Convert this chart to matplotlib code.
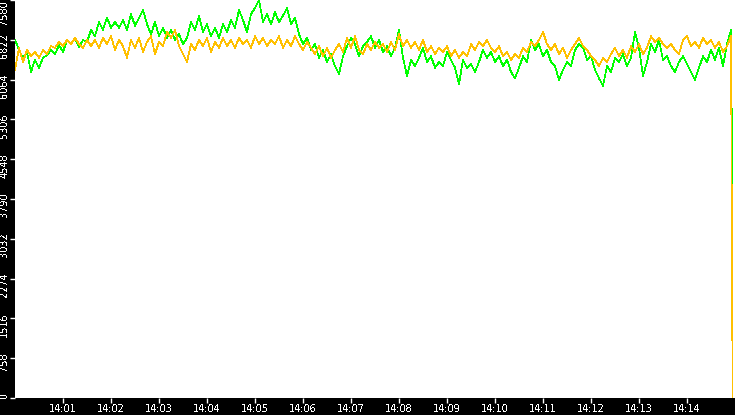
import numpy as np
import matplotlib
matplotlib.use("Agg")
import matplotlib.pyplot as plt
import matplotlib.dates as mdates
from matplotlib.transforms import ScaledTranslation

plt.rcParams["text.antialiased"] = False

# samples every 5 s from 14:00:00, last sample is the drop at the end
green_vals = [
    6820, 6630, 6480, 6590, 6210, 6440, 6290, 6480, 6530, 6630,
    6550, 6720, 6590, 6820, 6740, 6860, 6680, 6820, 6780, 7010,
    6890, 7160, 7010, 7240, 7050, 7160, 7050, 7200, 7010, 7310,
    7090, 7240, 7390, 7120, 6930, 7160, 6890, 7050, 6860, 7010,
    6820, 6930, 6740, 6860, 7160, 7010, 7280, 6970, 7120, 6890,
    7050, 6860, 7120, 6970, 7200, 7050, 7390, 7200, 6970, 7310,
    7430, 7580, 7160, 7310, 7120, 7350, 7160, 7280, 7430, 7120,
    7240, 6930, 6740, 6860, 6630, 6740, 6480, 6630, 6400, 6550,
    6320, 6170, 6510, 6700, 6860, 6740, 6510, 6700, 6780, 6890,
    6670, 6820, 6590, 6700, 6510, 6670, 7010, 6480, 6130, 6440,
    6320, 6480, 6670, 6400, 6510, 6290, 6400, 6320, 6590, 6440,
    6290, 5980, 6440, 6290, 6360, 6210, 6400, 6630, 6480, 6590,
    6400, 6510, 6320, 6440, 6210, 6090, 6290, 6510, 6400, 6820,
    6630, 6740, 6510, 6630, 6400, 6320, 6060, 6250, 6400, 6320,
    6630, 6740, 6670, 6440, 6510, 6250, 6090, 5940, 6320, 6210,
    6480, 6400, 6550, 6320, 6480, 6970, 6670, 6130, 6400, 6740,
    6590, 6820, 6440, 6510, 6320, 6210, 6400, 6510, 6360, 6210,
    6060, 6290, 6510, 6400, 6630, 6440, 6670, 6320, 6740, 7010,
    3350,
]

yellow_vals = [
    6250, 6670, 6400, 6630, 6510, 6590, 6480, 6630, 6550, 6700,
    6670, 6780, 6700, 6820, 6740, 6860, 6740, 6670, 6820, 6700,
    6820, 6670, 6860, 6740, 6890, 6630, 6820, 6700, 6480, 6820,
    6670, 6860, 6590, 6780, 6890, 6550, 6780, 6700, 6970, 6860,
    7010, 6700, 6550, 6400, 6740, 6630, 6820, 6700, 6860, 6590,
    6780, 6670, 6860, 6700, 6820, 6670, 6860, 6740, 6820, 6670,
    6890, 6740, 6860, 6700, 6820, 6740, 6890, 6670, 6820, 6700,
    6890, 6740, 6630, 6780, 6670, 6550, 6700, 6510, 6670, 6480,
    6630, 6740, 6590, 6860, 6670, 6890, 6630, 6550, 6740, 6630,
    6780, 6670, 6740, 6590, 6780, 6630, 6930, 6700, 6820, 6670,
    6780, 6630, 6820, 6590, 6700, 6550, 6670, 6590, 6700, 6510,
    6630, 6480, 6590, 6510, 6740, 6630, 6780, 6700, 6820, 6670,
    6590, 6700, 6510, 6590, 6440, 6550, 6480, 6670, 6590, 6780,
    6700, 6820, 6970, 6740, 6630, 6740, 6550, 6670, 6480, 6630,
    6740, 6860, 6700, 6630, 6510, 6440, 6320, 6480, 6400, 6550,
    6670, 6510, 6630, 6480, 6700, 6590, 6740, 6550, 6670, 6890,
    6780, 6860, 6740, 6670, 6740, 6630, 6550, 6820, 6890, 6700,
    6780, 6670, 6860, 6740, 6820, 6670, 6780, 6590, 6700, 6890,
    0,
]

y_ticks = [0, 758, 1516, 2274, 3032, 3790, 4548, 5306, 6064, 6822, 7580]
x_tick_labels = ["14:01", "14:02", "14:03", "14:04", "14:05", "14:06", "14:07",
                 "14:08", "14:09", "14:10", "14:11", "14:12", "14:13", "14:14"]

start = np.datetime64("2024-01-01T14:00:00")
secs = list(range(0, 900, 5)) + [897]
times = start + np.array(secs, dtype="timedelta64[s]")

fig = plt.figure(figsize=(7.35, 4.15), dpi=100, facecolor="black")
ax = fig.add_axes([15 / 735, 17 / 415, 720 / 735, 398 / 415])
ax.set_facecolor("white")

ax.plot(times, green_vals, color="#00ff00", lw=0.5, antialiased=False)
ax.plot(times, yellow_vals, color="#ffc000", lw=0.5, antialiased=False)

ax.set_xlim(start, start + np.timedelta64(900, "s"))
ax.set_ylim(0, 7580)

xt = [start + np.timedelta64(60 * (i + 1), "s") for i in range(len(x_tick_labels))]
ax.set_xticks(mdates.date2num(xt))
ax.set_xticklabels(x_tick_labels)
ax.set_yticks(y_ticks)
ax.set_yticklabels([str(v) for v in y_ticks])

for s in ax.spines.values():
    s.set_visible(False)

ax.tick_params(axis="both", colors="white", labelsize=7, length=3.5, width=1)
ax.tick_params(axis="x", pad=1)
ax.tick_params(axis="y", pad=0.5, labelrotation=90)

# labels start a little above their tick and run downwards
shift = ScaledTranslation(0, 4.5 / 72, fig.dpi_scale_trans)
ylabs = ax.get_yticklabels()
for lab in ylabs[:-1]:
    lab.set_va("top")
    lab.set_transform(lab.get_transform() + shift)
ylabs[-1].set_va("top")

fig.savefig("out.png", dpi=100, facecolor="black")
